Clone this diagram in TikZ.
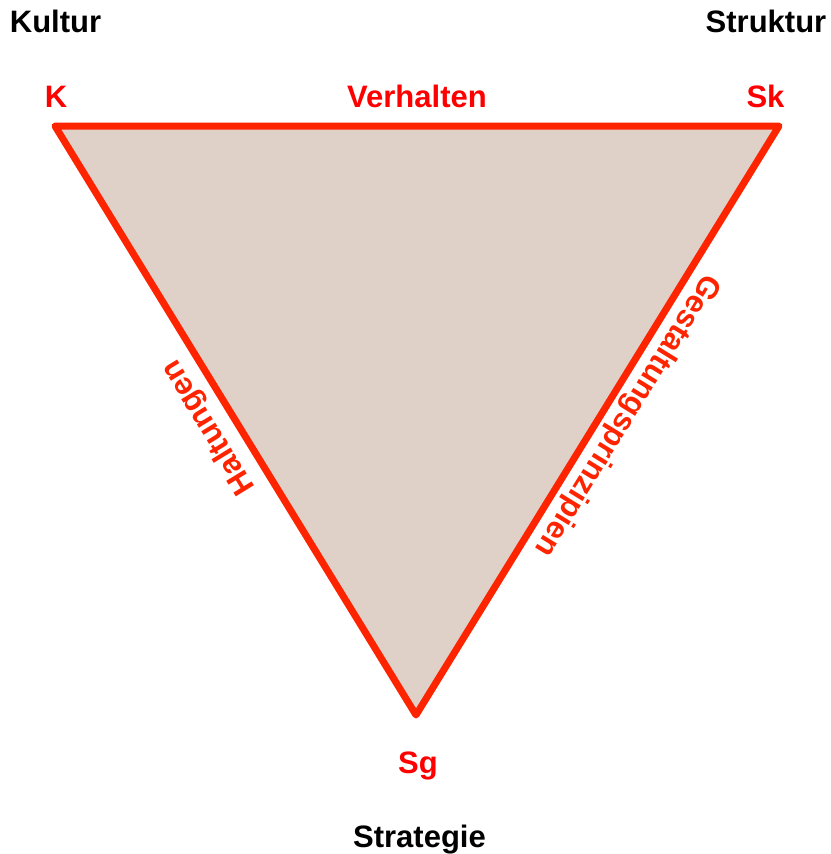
\documentclass[tikz,border=0pt]{standalone}
\usepackage{fontspec}
\setmainfont{Liberation Sans}
\definecolor{edgered}{HTML}{FF2400}
\definecolor{labred}{HTML}{FF0000}
\definecolor{fillrose}{HTML}{DFD0C8}
\begin{document}
\begin{tikzpicture}[x=1pt,y=-1pt,
  lab/.style={font=\fontsize{31}{37}\selectfont\bfseries, inner sep=0pt, anchor=base},
  blacklab/.style={lab, text=black},
  redlab/.style={lab, text=labred},
  edgelab/.style={font=\fontsize{31}{37}\selectfont\bfseries, inner sep=0pt, text=edgered, anchor=center}]
\useasboundingbox (0,0) rectangle (830,854);
\coordinate (K) at (55,126);
\coordinate (Sk) at (779,126);
\coordinate (Sg) at (416,715);
\draw[edgered, fill=fillrose, line width=7pt, line join=round] (K) -- (Sk) -- (Sg) -- cycle;
\node[blacklab] (kultur) at (55.5,32) {Kultur};
\node[blacklab] (struktur) at (766,32) {Struktur};
\node[redlab] (kl) at (56,107) {K};
\node[redlab] (verh) at (417,107) {Verhalten};
\node[redlab] (skl) at (765.5,107) {Sk};
\node[redlab] (sgl) at (418,773) {Sg};
\node[blacklab] (strat) at (419.5,847) {Strategie};
\node[edgelab, rotate=121.5] (halt) at (209,427) {Haltungen};
\node[edgelab, rotate=-121.6] (gest) at (627,415) {Gestaltungsprinzipien};
\end{tikzpicture}
\end{document}
